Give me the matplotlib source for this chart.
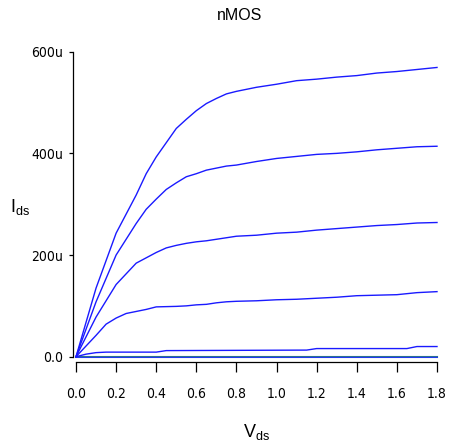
import matplotlib
matplotlib.use("Agg")
import matplotlib.pyplot as plt
from matplotlib.ticker import FixedLocator, FuncFormatter

# Curvas Id-Vds del nMOS (corriente en uA)
v1 = [0, 0.1, 0.2, 0.3, 0.35, 0.4, 0.5, 0.55, 0.6, 0.65, 0.7, 0.75, 0.8, 0.85, 0.9,
      1.0, 1.1, 1.2, 1.3, 1.4, 1.5, 1.6, 1.7, 1.8]
i1 = [0, 135, 243, 318, 360, 393, 449, 467, 484, 498, 508, 517, 522, 526, 530,
      536, 543, 546, 550, 553, 558, 561, 565, 569]

v2 = [0, 0.1, 0.2, 0.3, 0.35, 0.4, 0.45, 0.5, 0.55, 0.6, 0.65, 0.7, 0.75, 0.8, 0.9,
      1.0, 1.1, 1.2, 1.3, 1.4, 1.5, 1.6, 1.7, 1.8]
i2 = [0, 108, 200, 262, 290, 310, 329, 342, 354, 360, 367, 371, 375, 377, 384,
      390, 394, 398, 400, 403, 407, 410, 413, 414]

v3 = [0, 0.1, 0.2, 0.3, 0.4, 0.45, 0.5, 0.55, 0.6, 0.65, 0.7, 0.75, 0.8, 0.9,
      1.0, 1.1, 1.2, 1.3, 1.4, 1.5, 1.6, 1.7, 1.8]
i3 = [0, 78, 142, 184, 205, 214, 219, 223, 226, 228, 231, 234, 237, 239,
      243, 245, 249, 252, 255, 258, 260, 263, 264]

v4 = [0, 0.1, 0.15, 0.2, 0.25, 0.3, 0.35, 0.4, 0.5, 0.55, 0.6, 0.65, 0.7, 0.75, 0.8,
      0.9, 1.0, 1.1, 1.2, 1.3, 1.4, 1.5, 1.6, 1.7, 1.8]
i4 = [0, 42, 64, 76, 85, 89, 93, 98, 99, 100, 102, 103, 106, 108, 109,
      110, 112, 113, 115, 117, 120, 121, 122, 126, 128]

v5 = [0, 0.05, 0.1, 0.15, 0.4, 0.45, 1.15, 1.2, 1.65, 1.7, 1.8]
i5 = [0, 5, 8, 9, 9, 12, 13, 16, 16, 20, 20]

v6 = [0, 1.8]
i6 = [0, 0]

curvas = [(v1, i1), (v2, i2), (v3, i3), (v4, i4), (v5, i5)]

xticks = [0.0, 0.2, 0.4, 0.6, 0.8, 1.0, 1.2, 1.4, 1.6, 1.8]
yticks = [0, 200e-6, 400e-6, 600e-6]

plt.rcParams["mathtext.default"] = "regular"
fuente = ["Liberation Sans", "DejaVu Sans"]

fig = plt.figure(figsize=(4.51, 4.48), dpi=100)
ax = fig.add_axes([76 / 451, 91.3 / 448, 361 / 451, 305 / 448])

# Graficar la linea de corte y luego las curvas
ax.plot(v6, i6, color="#2a7090", lw=1.5, clip_on=False, zorder=2)
ax.plot(v6, i6, color="#2030ff", lw=0.6, clip_on=False, zorder=3)
for v, i in curvas:
    ax.plot(v, [x * 1e-6 for x in i], color="#1a1aff", lw=1.0, clip_on=False, zorder=3)

ax.set_xlim(0, 1.8)
ax.set_ylim(0, 600e-6)

# Ejes estilo R
for s in ["top", "right"]:
    ax.spines[s].set_visible(False)
ax.spines["left"].set_position(("outward", 2.2))
ax.spines["bottom"].set_position(("outward", 3.6))
ax.spines["left"].set_bounds(0, 600e-6)
ax.spines["bottom"].set_bounds(0, 1.8)
ax.spines["left"].set_linewidth(0.9)
ax.spines["bottom"].set_linewidth(0.9)

ax.xaxis.set_major_locator(FixedLocator(xticks))
ax.yaxis.set_major_locator(FixedLocator(yticks))
ax.xaxis.set_major_formatter(FuncFormatter(lambda v, p: f"{v:.1f}"))
ax.yaxis.set_major_formatter(
    FuncFormatter(lambda v, p: "0.0" if abs(v) < 1e-12 else f"{int(round(v * 1e6))}u"))
ax.tick_params(axis="x", length=7.2, width=0.9, pad=11, labelsize=10)
ax.tick_params(axis="y", length=2.9, width=0.9, pad=4, labelsize=10)
for lab in ax.get_xticklabels() + ax.get_yticklabels():
    lab.set_fontfamily(["DejaVu Sans"])
    lab.set_fontstretch("condensed")

# Titulo y etiquetas
fig.text(240 / 451, 1 - 16 / 448, "nMOS", ha="center", va="center",
         fontsize=11.5, family=fuente)
fig.text(257 / 451, 1 - 432 / 448, "V$_{ds}$", ha="center", va="center",
         fontsize=13, family=fuente)
fig.text(20 / 451, 1 - 207 / 448, "I$_{ds}$", ha="center", va="center",
         fontsize=13, family=fuente)

fig.savefig("out.png", dpi=100, facecolor="white")
